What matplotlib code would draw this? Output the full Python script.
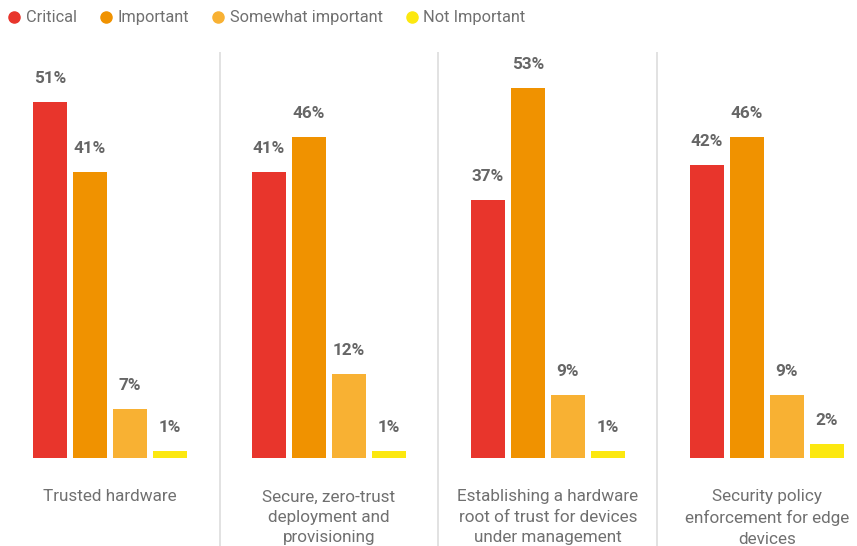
import matplotlib.pyplot as plt
from matplotlib.lines import Line2D

plt.rcParams['font.family'] = ['Roboto', 'DejaVu Sans']

categories = ['Trusted hardware',
              'Secure, zero-trust\ndeployment and\nprovisioning',
              'Establishing a hardware\nroot of trust for devices\nunder management',
              'Security policy\nenforcement for edge\ndevices']
series = ['Critical', 'Important', 'Somewhat important', 'Not Important']
critical = [51, 41, 37, 42]
important = [41, 46, 53, 46]
somewhat = [7, 12, 9, 9]
not_important = [1, 1, 1, 2]
colors = ['#E8352C', '#F09200', '#F8B133', '#FCE80F']

values = [critical, important, somewhat, not_important]

fig = plt.figure(figsize=(8.57, 5.46), dpi=100)
ax = fig.add_axes([0, 88 / 546, 1, 458 / 546])
ax.set_xlim(-110 / 219, (857 - 110) / 219)
ax.set_ylim(0, 458 / 6.98)
ax.axis('off')

step = 40 / 219
width = 34 / 219
for i, (vals, c) in enumerate(zip(values, colors)):
    xs = [g + (i - 1.5) * step for g in range(len(categories))]
    ax.bar(xs, vals, width=width, color=c)
    for x, v in zip(xs, vals):
        ax.text(x, v + 3.4, f'{v}%', ha='center', va='center',
                fontsize=12.3, fontweight='bold', color='#666666')

# thin separators between the groups
for g in range(len(categories) - 1):
    ax.vlines(g + 0.5, -12.7, 58.2, color='#dddddd', lw=1.2, clip_on=False)

for g, cat in enumerate(categories):
    ax.text(g, -4.5, cat, ha='center', va='top', fontsize=12.3,
            color='#707070', linespacing=1.45)

handles = [Line2D([], [], marker='o', ls='none', markersize=8,
                  markerfacecolor=c, markeredgecolor=c) for c in colors]
fig.legend(handles, series, loc='upper left', bbox_to_anchor=(-0.012, 1.008),
           ncol=4, frameon=False, fontsize=11.8, labelcolor='#707070',
           handletextpad=0.1, columnspacing=1.18, handlelength=1.2)

fig.savefig('out.png', dpi=100)
